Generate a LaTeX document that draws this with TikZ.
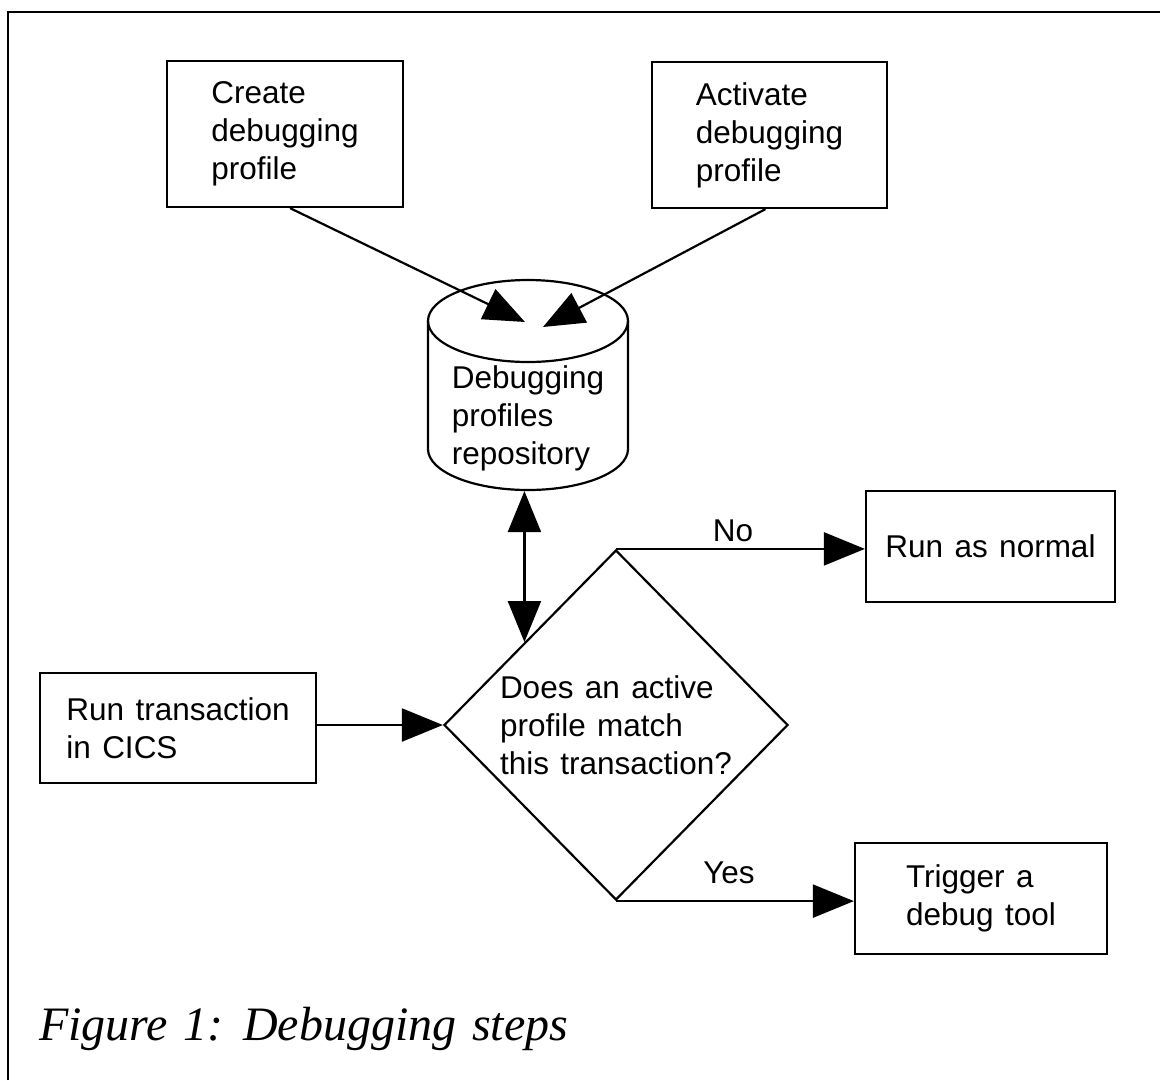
\documentclass[tikz,border=0pt]{standalone}
\usepackage{fontspec}
\setmainfont{Liberation Sans}[WordSpace=1.3]
\newfontfamily\capfont{Liberation Serif}[WordSpace=1.3]
\usetikzlibrary{shapes.geometric,arrows.meta,calc}
\begin{document}
\begin{tikzpicture}[x=1pt,y=-1pt,
  line width=2.2pt,
  txt/.style={font=\fontsize{31.5}{38}\selectfont},
  box/.style={draw, rectangle, align=left, inner sep=0pt, txt},
  lbl/.style={txt, inner sep=0pt},
  arr/.style={-{Triangle[length=41pt,width=33pt]}},
  dbl/.style={{Triangle[length=41pt,width=33pt]}-{Triangle[length=41pt,width=33pt]}},
]
\useasboundingbox (0,0) rectangle (1160,1080);
\draw[line width=1.2pt] (8,1080) -- (8,12) -- (1160,12);

% boxes
\node[box, minimum width=236pt, minimum height=146pt] (create) at (285,134) {Create\\debugging\\profile};
\node[box, minimum width=235pt, minimum height=146pt] (activate) at (769.5,135) {Activate\\debugging\\profile};
\node[box, minimum width=276pt, minimum height=110pt] (run) at (178,728) {Run transaction\\in CICS};
\node[box, minimum width=249pt, minimum height=111pt] (norm) at (990.5,546.5) {Run as normal};
\node[box, minimum width=252pt, minimum height=111pt] (trig) at (981,898.5) {Trigger a\\debug tool};

% repository cylinder
\node[minimum width=200pt, minimum height=210pt, inner sep=0pt] (repo) at (528,385) {};
\draw (428,321) -- (428,449) arc[start angle=180, end angle=0, x radius=100, y radius=41] -- (628,321);
\draw (528,321) ellipse [x radius=100, y radius=41];
\node[txt, align=left, inner sep=0pt] (repotext) at (528,418) {Debugging\\profiles\\repository};

% decision
\node[diamond, draw, minimum width=344pt, minimum height=350pt, inner sep=0pt, align=left, txt] (dia) at (616,725) {Does an active\\profile match\\this transaction?};

% connectors
\coordinate (t1) at (525,322);
\coordinate (t2) at (543,327);
\draw[arr] ([xshift=5pt]create.south) -- (t1);
\draw[arr] ([xshift=-4pt]activate.south) -- (t2);

\coordinate (dbot) at ($(dia.north)!0.529!(dia.west)$);
\draw[dbl] (dbot |- repo.south) -- (dbot);

\draw[arr] (dia.north) -- (dia.north -| norm.west);
\draw[arr] (dia.south) -- (dia.south -| trig.west);
\draw[arr] (run.east |- dia.west) -- (dia.west);

\node[lbl, anchor=base] (no) at (733,541) {No};
\node[lbl, anchor=base] (yes) at (729,883) {Yes};

\node[anchor=base west, inner sep=0pt, font=\capfont\itshape\fontsize{48}{52}\selectfont] (cap) at (38,1040) {Figure 1: Debugging steps};
\end{tikzpicture}
\end{document}
